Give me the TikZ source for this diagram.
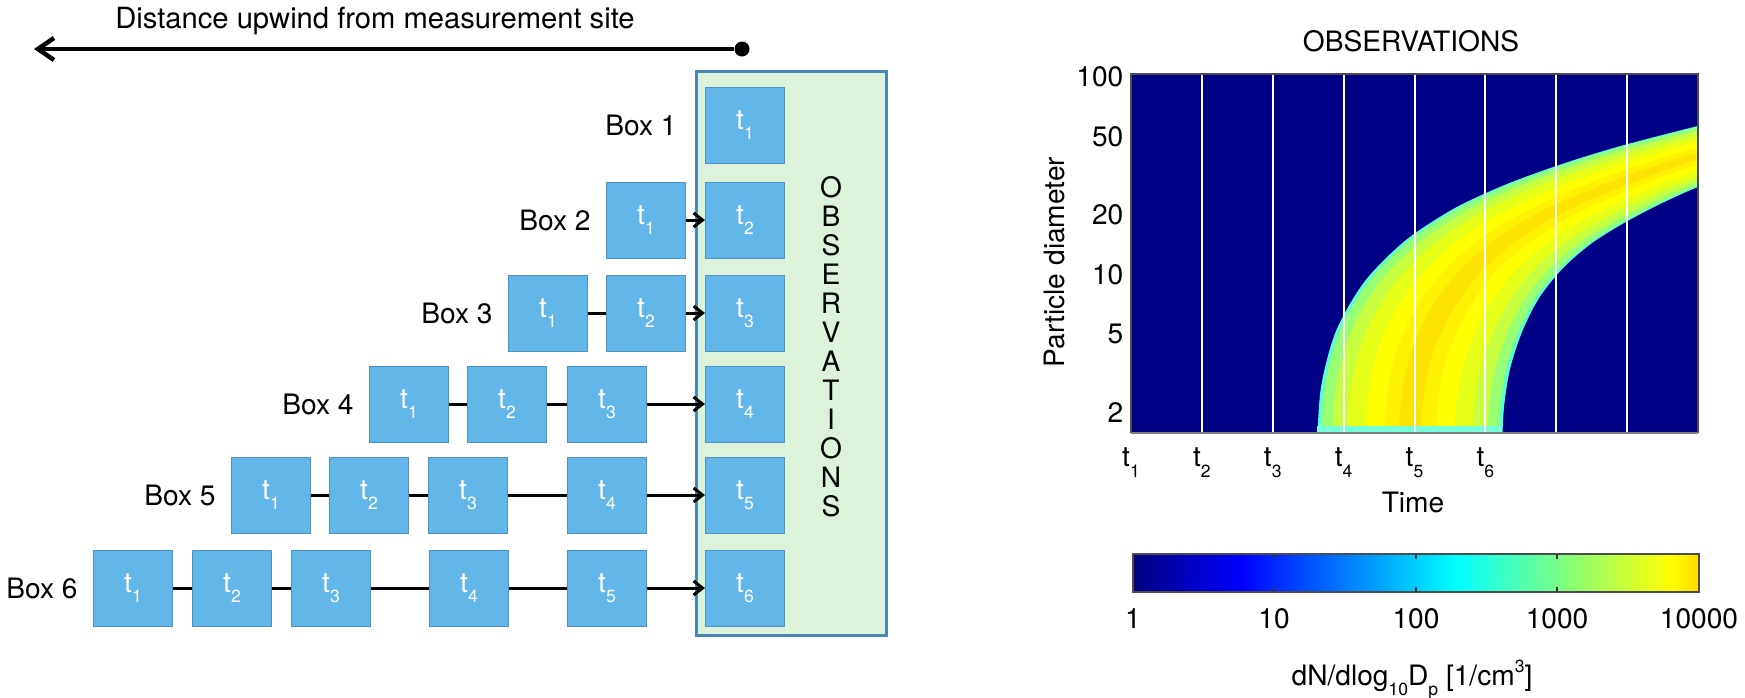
\documentclass[tikz,border=0pt]{standalone}
\usepackage{fontspec}
\setmainfont{TeX Gyre Heros}
\usetikzlibrary{arrows.meta,positioning,calc}

\definecolor{boxfill}{HTML}{62B6E8}
\definecolor{boxedge}{HTML}{4E93C6}
\definecolor{obsfill}{HTML}{DDF2DA}
\definecolor{obsedge}{HTML}{4A87B5}
\definecolor{navy}{rgb}{0,0,0.53}
\definecolor{hm0}{rgb}{0.35,1,0.8}
\definecolor{hm1}{rgb}{0.6,1,0.45}
\definecolor{hm2}{rgb}{0.78,1,0.25}
\definecolor{hm3}{rgb}{0.9,1,0.1}
\definecolor{hm4}{rgb}{1,1,0}
\definecolor{hm5}{rgb}{1,0.95,0}
\definecolor{hm6}{rgb}{1,0.89,0}
\definecolor{hmfoot}{rgb}{0.45,1,0.85}

\pgfdeclarehorizontalshading{jetbar}{100bp}{rgb(0bp)=(0,0,0.5); rgb(25bp)=(0,0,0.5); rgb(34.5bp)=(0,0,1); rgb(53.5bp)=(0,1,1); rgb(72.5bp)=(1,1,0); rgb(75bp)=(1,0.85,0); rgb(100bp)=(1,0.85,0)}

\newcommand{\sublab}[1]{\raisebox{-3pt}{\fontsize{5}{5}\selectfont #1}}
\newcommand{\suplab}[1]{\raisebox{3.5pt}{\fontsize{5}{5}\selectfont #1}}
\newcommand{\tlab}[1]{t\sublab{#1}}

\begin{document}
\begin{tikzpicture}[x=0.1mm, y=-0.1mm, font=\fontsize{8}{9.6}\selectfont,
	tbox/.style={draw=boxedge, fill=boxfill, line width=.1mm, minimum width=7.9mm, minimum height=7.6mm, inner sep=0, text=white},
	link/.style={line width=.3mm},
	feed/.style={line width=.3mm, -{Straight Barb[length=.9mm,width=1.4mm]}}]
	\useasboundingbox (0,0) rectangle (1745,697);
	
	% DISTANCE
	\coordinate (far) at (34,49);
	\node[circle, fill=black, minimum size=1.5mm, inner sep=0] (site) at (742,49) {};
	\draw[line width=.45mm, {Straight Barb[length=1.6mm,width=2.2mm]}-] (far) -- (site);
	\node[anchor=base, font=\fontsize{8.3}{10}\selectfont] (dist) at (375,28) {Distance upwind from measurement site};
	
	% OBSERVATIONS COLUMN
	\node[draw=obsedge, fill=obsfill, line width=.3mm, minimum width=19mm, minimum height=56.4mm, inner sep=0] (obs) at (791,353) {};
	\node[align=center, font=\fontsize{8}{8.25}\selectfont] (obstxt) at (831,347) {O\\B\\S\\E\\R\\V\\A\\T\\I\\O\\N\\S};
	\foreach \r/\y in {1/125,2/220,3/313,4/404,5/495,6/588}
		\node[tbox] (o\r) at (745,\y) {\tlab{\r}};
	
	% BOXES
	\node[tbox] (b2t1) at (646,220) {\tlab{1}};
	\foreach \x [count=\k] in {548,646}
		\node[tbox] (b3t\k) at (\x,313) {\tlab{\k}};
	\foreach \x [count=\k] in {409,507,607}
		\node[tbox] (b4t\k) at (\x,404) {\tlab{\k}};
	\foreach \x [count=\k] in {271,369,468,607}
		\node[tbox] (b5t\k) at (\x,495) {\tlab{\k}};
	\foreach \x [count=\k] in {133,232,331,469,607}
		\node[tbox] (b6t\k) at (\x,588) {\tlab{\k}};
	
	\node[left=1.6mm of o1] (lab1) {Box 1};
	\node[left=.3mm of b2t1] (lab2) {Box 2};
	\node[left=.3mm of b3t1] (lab3) {Box 3};
	\node[left=.3mm of b4t1] (lab4) {Box 4};
	\node[left=.3mm of b5t1] (lab5) {Box 5};
	\node[left=.3mm of b6t1] (lab6) {Box 6};
	
	% LINKS
	\draw[feed] (b2t1) -- (o2);
	\draw[link] (b3t1) -- (b3t2);
	\draw[feed] (b3t2) -- (o3);
	\draw[link] (b4t1) -- (b4t2);
	\draw[link] (b4t2) -- (b4t3);
	\draw[feed] (b4t3) -- (o4);
	\draw[link] (b5t1) -- (b5t2);
	\draw[link] (b5t2) -- (b5t3);
	\draw[link] (b5t3) -- (b5t4);
	\draw[feed] (b5t4) -- (o5);
	\draw[link] (b6t1) -- (b6t2);
	\draw[link] (b6t2) -- (b6t3);
	\draw[link] (b6t3) -- (b6t4);
	\draw[link] (b6t4) -- (b6t5);
	\draw[feed] (b6t5) -- (o6);
	
	% PLOT
	\node (title) at (1411,41) {OBSERVATIONS};
	\fill[navy] (1131,74) rectangle (1698,433);
	\foreach \x/\y [count=\i from 0] in {1317/445,1321/387,1336/331,1365/281,1406/240,1455/208,1507/184,1562/164,1617/147,1674/132,1730/118}
		\coordinate (u\i) at (\x,\y);
	\foreach \x/\y [count=\i from 0] in {1502/445,1504/407,1510/369,1522/332,1539/298,1563/268,1592/243,1624/223,1658/205,1693/189,1730/175}
		\coordinate (l\i) at (\x,\y);
	\begin{scope}
		\clip (1131,74) rectangle (1698,433);
		\foreach \s/\c in {0/hm0,0.02/hm1,0.08/hm2,0.16/hm3,0.26/hm4,0.36/hm5,0.44/hm6}{
			\pgfmathsetmacro\e{1-\s}
			\foreach \i in {0,...,10}{
				\coordinate (p\i) at ($(u\i)!\s!(l\i)$);
				\coordinate (q\i) at ($(u\i)!\e!(l\i)$);
			}
			\fill[\c] plot[smooth] coordinates {(p0) (p1) (p2) (p3) (p4) (p5) (p6) (p7) (p8) (p9) (p10)}
				-- plot[smooth] coordinates {(q10) (q9) (q8) (q7) (q6) (q5) (q4) (q3) (q2) (q1) (q0)} -- cycle;
		}
		\fill[hmfoot] (1317,426) rectangle (1502,433);
	\end{scope}
	\foreach \k in {1,...,7}
		\draw[white, line width=.2mm] (1131+\k*70.875,74) -- (1131+\k*70.875,433);
	\draw[gray!60!black, line width=.12mm] (1131,433) -- (1131,74) -- (1698,74) -- (1698,433);
	\draw[gray, line width=.25mm] (1131,433) -- (1698,433);
	
	\foreach \v/\y in {100/77,50/137,20/215,10/275,5/334,2/413}
		\node[anchor=east, inner sep=0] (ytick\v) at (1124,\y) {\v};
	\foreach \i in {1,...,6}
		\node[anchor=north, inner sep=0] (xtick\i) at (1131+\i*70.875-70.875,447) {\tlab{\i}};
	\node[rotate=90] (ylab) at (1054,262) {Particle diameter};
	\node[anchor=base, inner sep=0] (xlab) at (1413,512) {Time};
	
	% COLORBAR
	\shade[shading=jetbar] (1133,554) rectangle (1699,592);
	\draw[gray!60!black, line width=.12mm] (1133,554) rectangle (1699,592);
	\foreach \x in {1274,1416,1557}{
		\draw[gray!40!black, line width=.15mm] (\x,554) -- ++(0,5);
		\draw[gray!40!black, line width=.15mm] (\x,592) -- ++(0,-5);
	}
	\foreach \v/\x in {1/1133,10/1274,100/1416,1000/1557,10000/1699}
		\node[anchor=base, inner sep=0] (cb\v) at (\x,628) {\v};
	\node[anchor=base, inner sep=0] (cblab) at (1412,685) {dN/dlog\sublab{10}D\sublab{p} [1/cm\suplab{3}]};
\end{tikzpicture}
\end{document}
